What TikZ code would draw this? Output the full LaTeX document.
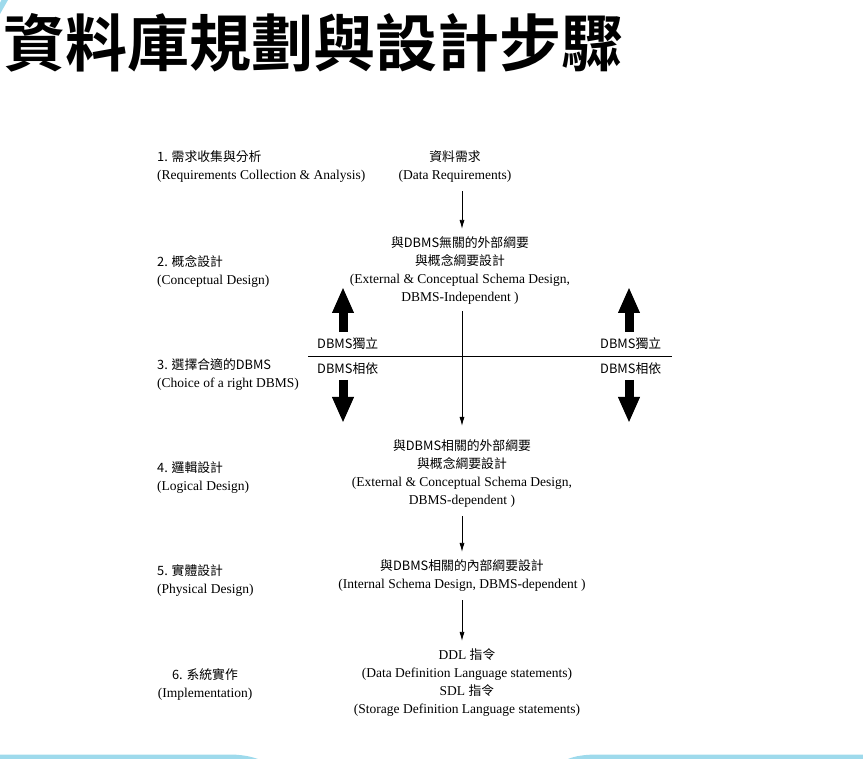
\documentclass[tikz,border=0pt]{standalone}
\usepackage{fontspec}
\setmainfont{Liberation Serif}
\newfontfamily\cjk[Scale=0.95]{Noto Sans CJK TC}
\newfontfamily\titlefont{Noto Sans CJK TC Bold}
\usetikzlibrary{arrows.meta, positioning}
\definecolor{slideblue}{RGB}{158,218,236}

\begin{document}
\begin{tikzpicture}[
    x=1pt, y=-1pt,
    % --- 样式定义 ---
    % 标题:粗黑体
    title/.style={anchor=west, inner sep=0pt, font=\titlefont\fontsize{62}{62}\selectfont},
    % 左侧步骤说明
    phase/.style={anchor=west, align=left, inner sep=0pt, font=\fontsize{13.5}{18}\selectfont},
    % 中间的纲要/产物
    schema/.style={align=center, inner sep=3pt, font=\fontsize{13.5}{18}\selectfont},
    % DBMS 独立/相依 标注
    tag/.style={anchor=west, inner sep=0pt, font=\cjk\fontsize{13.5}{16}\selectfont},
    % 箭头
    flow/.style={-{Latex[length=9pt, width=5pt]}, line width=0.8pt, shorten <=5pt, shorten >=5pt},
    bigarrow/.style={-{Triangle[length=26pt, width=20pt]}, line width=9pt},
    divider/.style={line width=0.8pt},
    deco/.style={fill=slideblue, draw=none}
]
\useasboundingbox (0,0) rectangle (863,759);

% ==================== 1. 标题与页面装饰 ====================
\node[title] (Title) at (3,43) {資料庫規劃與設計步驟};
\fill[deco] (1.5,0) -- (8,0) -- (0,14) -- (0,3) -- cycle;
\fill[deco] (0,754.5) -- (232,754.5) .. controls (245,755) and (252,757) .. (258,759) -- (0,759) -- cycle;
\fill[deco] (568,759) .. controls (575,756) and (585,754.5) .. (598,754.5) -- (863,754.5) -- (863,759) -- cycle;

% ==================== 2. 左侧步骤 ====================
\node[phase] (S1) at (157,167) {{\cjk 1. 需求收集與分析}\\(Requirements Collection \& Analysis)};
\node[phase] (S2) at (157,271) {{\cjk 2. 概念設計}\\(Conceptual Design)};
\node[phase] (S3) at (157,375) {{\cjk 3. 選擇合適的DBMS}\\(Choice of a right DBMS)};
\node[phase] (S4) at (157,478) {{\cjk 4. 邏輯設計}\\(Logical Design)};
\node[phase] (S5) at (157,581) {{\cjk 5. 實體設計}\\(Physical Design)};
\node[phase, anchor=center, align=center] (S6) at (205,684) {{\cjk 6. 系統實作}\\(Implementation)};

% ==================== 3. 中间流程 ====================
\coordinate (Axis) at (462,0);
\node[schema] (Req) at (455,167) {{\cjk 資料需求}\\(Data Requirements)};
\node[schema] (Indep) at (460,271) {{\cjk 與DBMS無關的外部綱要}\\{\cjk 與概念綱要設計}\\(External \& Conceptual Schema Design,\\DBMS-Independent )};
\node[schema] (Dep) at (462,474) {{\cjk 與DBMS相關的外部綱要}\\{\cjk 與概念綱要設計}\\(External \& Conceptual Schema Design,\\DBMS-dependent )};
\node[schema] (Internal) at (462,576) {{\cjk 與DBMS相關的內部綱要設計}\\(Internal Schema Design, DBMS-dependent )};
\node[schema] (DDL) at (467,683) {DDL {\cjk 指令}\\(Data Definition Language statements)\\SDL {\cjk 指令}\\(Storage Definition Language statements)};

\draw[flow] (Req.south -| Axis) -- (Indep.north -| Axis);
\draw[flow, shorten <=3pt, shorten >=11pt] (Indep.south -| Axis) -- (Dep.north -| Axis);
\draw[flow] (Dep.south -| Axis) -- (Internal.north -| Axis);
\draw[flow] (Internal.south -| Axis) -- (DDL.north -| Axis);

% ==================== 4. DBMS 分界线 ====================
\coordinate (DivL) at (308,356);
\coordinate (DivR) at (672,356);
\draw[divider] (DivL) -- (DivR);

\node[tag] (IndL) at (317,344) {DBMS獨立};
\node[tag] (DepL) at (317,369) {DBMS相依};
\node[tag] (IndR) at (600,344) {DBMS獨立};
\node[tag] (DepR) at (600,369) {DBMS相依};

% 粗箭头:上为独立,下为相依
\coordinate (UpL0) at (343,332);  \coordinate (UpL1) at (343,287);
\coordinate (UpR0) at (629,332);  \coordinate (UpR1) at (629,287);
\coordinate (DnL0) at (343,380);  \coordinate (DnL1) at (343,423);
\coordinate (DnR0) at (629,380);  \coordinate (DnR1) at (629,423);
\draw[bigarrow] (UpL0) -- (UpL1);
\draw[bigarrow] (UpR0) -- (UpR1);
\draw[bigarrow] (DnL0) -- (DnL1);
\draw[bigarrow] (DnR0) -- (DnR1);

\end{tikzpicture}
\end{document}
